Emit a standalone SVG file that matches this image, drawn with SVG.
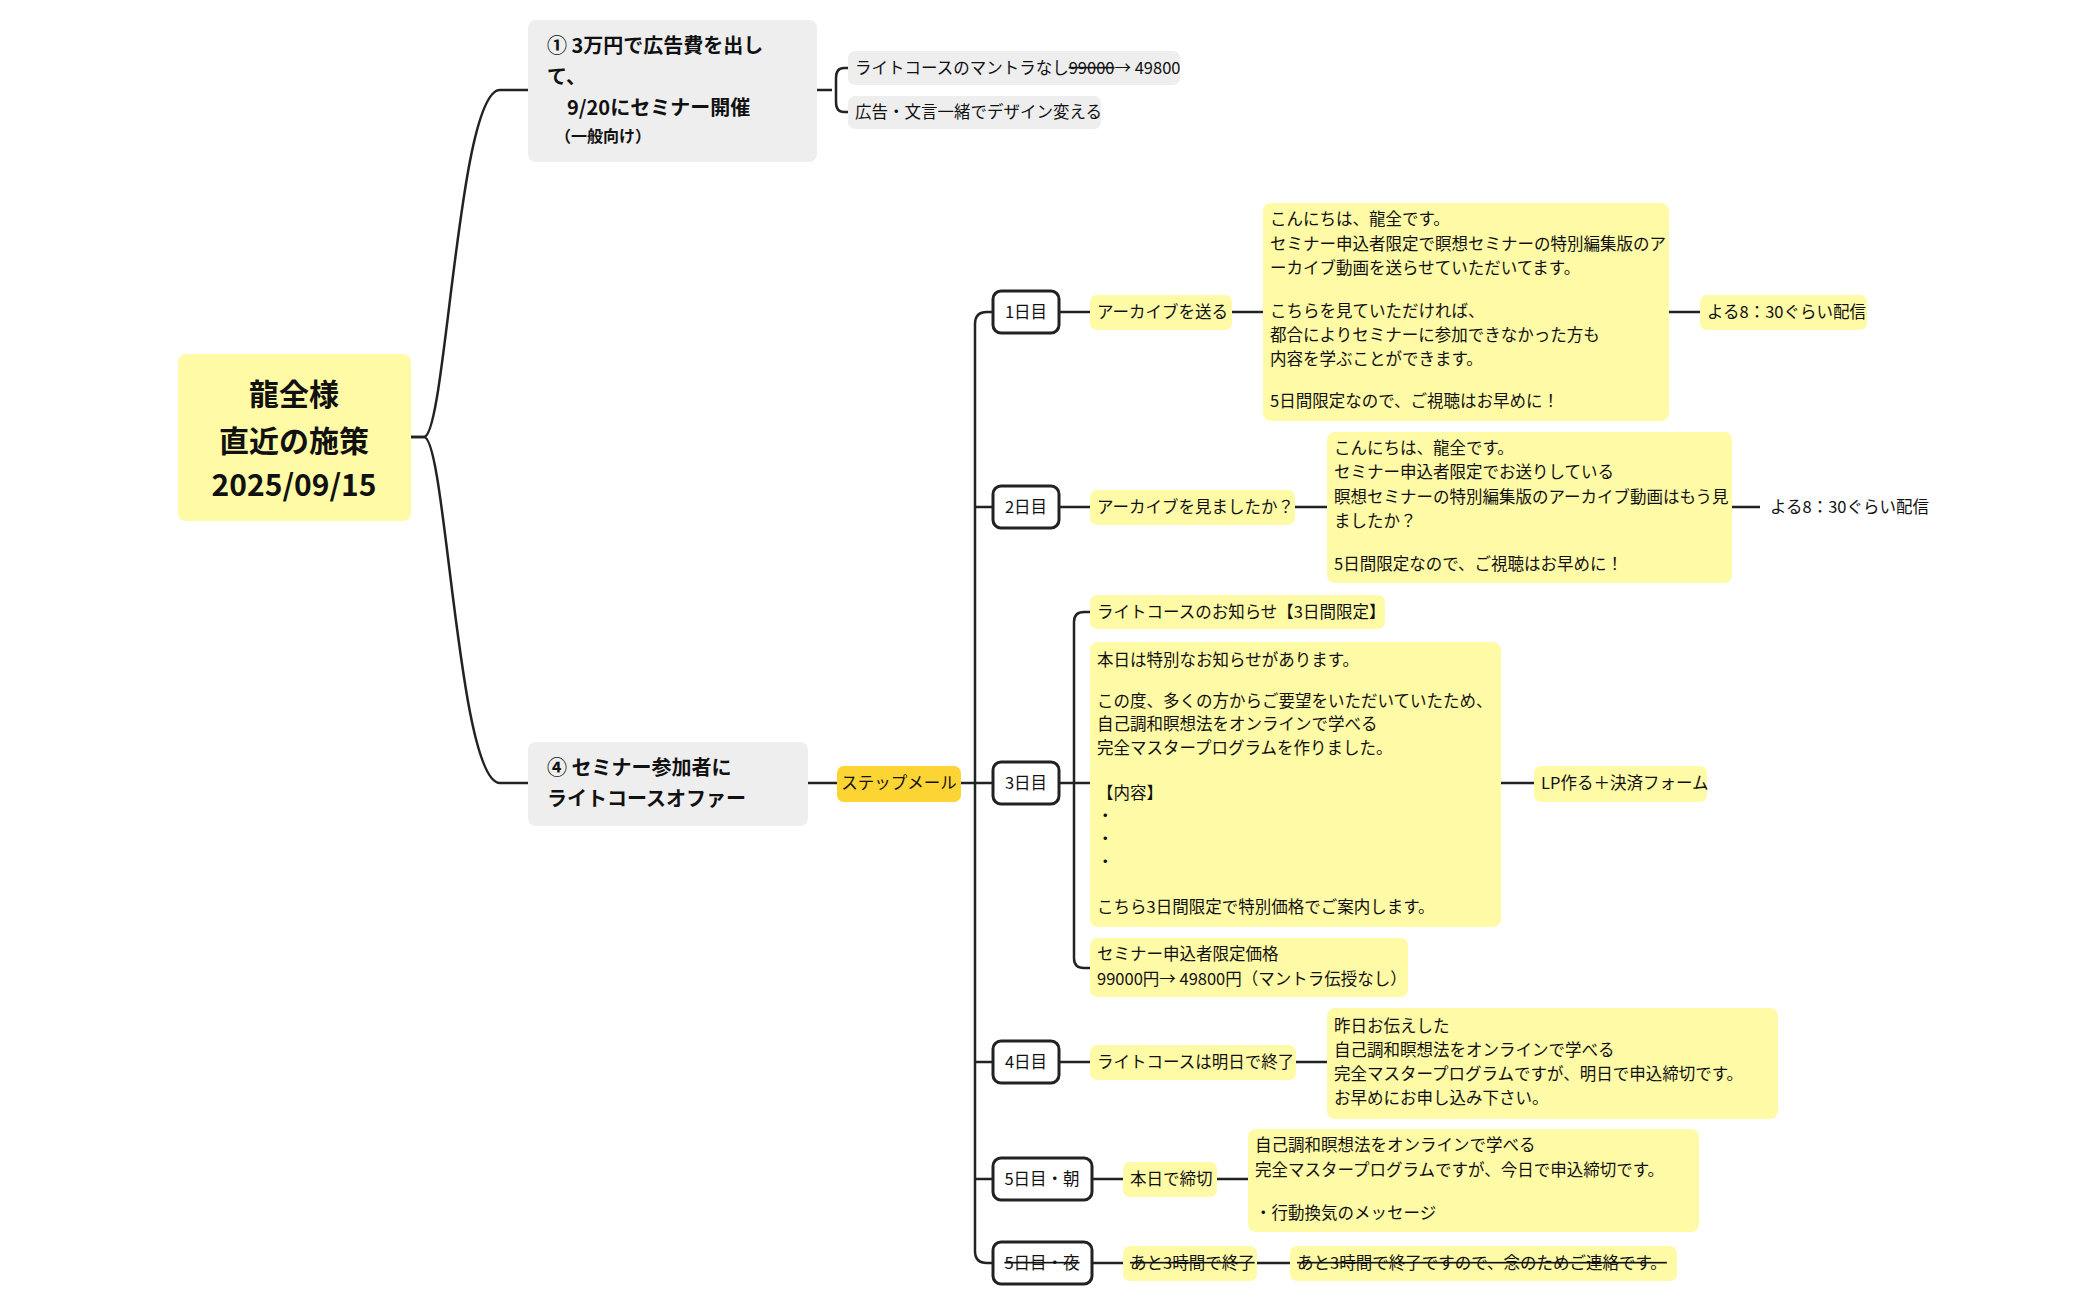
<svg xmlns="http://www.w3.org/2000/svg" width="2100" height="1299" viewBox="0 0 2100 1299">
<style>
text{font-family:"Noto Sans CJK JP","Noto Sans",sans-serif;fill:#111}
.y{fill:#FFFAA6}
.g{fill:#EEEEEE}
.o{fill:#FCD535}
.d{fill:#fff;stroke:#222;stroke-width:3}
.t{font-size:16.5px}
.b{font-weight:bold}
.c{fill:none;stroke:#222;stroke-width:2.5}
.s{text-decoration:line-through}
</style>
<rect width="2100" height="1299" fill="#fff"/>
<g id="connectors">
<path class="c" d="M411,437 H424 C446,437 458,90 500,90 H528"/>
<path class="c" d="M411,437 H424 C446,437 458,783 500,783 H528"/>
<path class="c" d="M817,90 H832 M848,68 H844 Q836,68 836,78 V102 Q836,112 844,112 H848"/>
<path class="c" d="M808,783 H837 M961,783 H993"/>
<path class="c" d="M993,312 H987 Q975,312 975,324 V1251 Q975,1263 987,1263 H993 M975,507 H993 M975,1062 H993 M975,1179 H993"/>
<path class="c" d="M1059,312 H1090 M1232,312 H1263 M1669,312 H1700"/>
<path class="c" d="M1059,507 H1090 M1295,507 H1327 M1732,507 H1760"/>
<path class="c" d="M1059,783 H1074 M1090,612 H1084 Q1074,612 1074,622 V958 Q1074,968 1084,968 H1090 M1074,783 H1090 M1501,783 H1534"/>
<path class="c" d="M1059,1062 H1090 M1296,1062 H1327"/>
<path class="c" d="M1092,1179 H1123 M1217,1179 H1248"/>
<path class="c" d="M1092,1263 H1123 M1257,1263 H1290"/>
</g>
<g id="root"><rect class="y" x="178" y="354" width="233" height="167" rx="8"/>
<text x="294" y="405" text-anchor="middle" font-size="30" class="b">龍全様</text>
<text x="294" y="452" text-anchor="middle" font-size="30" class="b">直近の施策</text>
<text x="294" y="496" text-anchor="middle" font-size="30" class="b">2025/09/15</text></g>
<g id="n1"><rect class="g" x="528" y="20" width="289" height="142" rx="8"/>
<text x="547" y="53" font-size="20" class="b">① 3万円で広告費を出し</text>
<text x="547" y="84" font-size="20" class="b">て、</text>
<text x="547" y="115" font-size="20" class="b" xml:space="preserve">　9/20にセミナー開催</text>
<text x="547" y="142" font-size="16" class="b" xml:space="preserve">　（一般向け）</text></g>
<g id="n1a"><rect class="g" x="848" y="51" width="332" height="34" rx="7"/><text x="855" y="74" class="t">ライトコースのマントラなし<tspan class="s">99000</tspan>→ 49800</text></g>
<g id="n1b"><rect class="g" x="848" y="96" width="253" height="33" rx="7"/><text x="855" y="118" class="t">広告・文言一緒でデザイン変える</text></g>
<g id="n4"><rect class="g" x="528" y="742" width="280" height="84" rx="8"/>
<text x="547" y="775" font-size="20" class="b">④ セミナー参加者に</text>
<text x="547" y="806" font-size="20" class="b">ライトコースオファー</text></g>
<g id="step"><rect class="o" x="837" y="766" width="124" height="36" rx="7"/><text x="899" y="789" class="t" text-anchor="middle">ステップメール</text></g>
<g id="d1"><rect class="d" x="993" y="291" width="66" height="42" rx="8"/><text x="1026" y="318" class="t" text-anchor="middle">1日目</text></g>
<g id="d1a"><rect class="y" x="1090" y="295" width="142" height="35" rx="7"/><text x="1097" y="318" class="t">アーカイブを送る</text></g>
<g id="d1b"><rect class="y" x="1263" y="203" width="406" height="218" rx="8"/>
<text class="t" x="1270"><tspan x="1270" y="225">こんにちは、龍全です。</tspan><tspan x="1270" y="250">セミナー申込者限定で瞑想セミナーの特別編集版のア</tspan><tspan x="1270" y="274">ーカイブ動画を送らせていただいてます。</tspan><tspan x="1270" y="317">こちらを見ていただければ、</tspan><tspan x="1270" y="341">都合によりセミナーに参加できなかった方も</tspan><tspan x="1270" y="365">内容を学ぶことができます。</tspan><tspan x="1270" y="407">5日間限定なので、ご視聴はお早めに！</tspan></text></g>
<g id="d1c"><rect class="y" x="1700" y="295" width="167" height="35" rx="7"/><text x="1707" y="318" class="t">よる8：30ぐらい配信</text></g>
<g id="d2"><rect class="d" x="993" y="486" width="66" height="42" rx="8"/><text x="1026" y="513" class="t" text-anchor="middle">2日目</text></g>
<g id="d2a"><rect class="y" x="1090" y="490" width="205" height="35" rx="7"/><text x="1097" y="513" class="t">アーカイブを見ましたか？</text></g>
<g id="d2b"><rect class="y" x="1327" y="432" width="405" height="151" rx="8"/>
<text class="t"><tspan x="1334" y="454">こんにちは、龍全です。</tspan><tspan x="1334" y="478">セミナー申込者限定でお送りしている</tspan><tspan x="1334" y="503">瞑想セミナーの特別編集版のアーカイブ動画はもう見</tspan><tspan x="1334" y="527">ましたか？</tspan><tspan x="1334" y="570">5日間限定なので、ご視聴はお早めに！</tspan></text></g>
<g id="d2c"><text x="1770" y="513" class="t">よる8：30ぐらい配信</text></g>
<g id="d3"><rect class="d" x="993" y="762" width="66" height="42" rx="8"/><text x="1026" y="789" class="t" text-anchor="middle">3日目</text></g>
<g id="d3a"><rect class="y" x="1090" y="595" width="295" height="34" rx="7"/><text x="1097" y="618" class="t">ライトコースのお知らせ【3日間限定】</text></g>
<g id="d3b"><rect class="y" x="1090" y="642" width="411" height="285" rx="8"/>
<text class="t"><tspan x="1097" y="666">本日は特別なお知らせがあります。</tspan><tspan x="1097" y="707">この度、多くの方からご要望をいただいていたため、</tspan><tspan x="1097" y="730">自己調和瞑想法をオンラインで学べる</tspan><tspan x="1097" y="754">完全マスタープログラムを作りました。</tspan><tspan x="1097" y="799">【内容】</tspan><tspan x="1097" y="822">・</tspan><tspan x="1097" y="845">・</tspan><tspan x="1097" y="868">・</tspan><tspan x="1097" y="913">こちら3日間限定で特別価格でご案内します。</tspan></text></g>
<g id="d3c"><rect class="y" x="1534" y="766" width="173" height="36" rx="7"/><text x="1541" y="789" class="t">LP作る＋決済フォーム</text></g>
<g id="d3d"><rect class="y" x="1090" y="938" width="318" height="59" rx="7"/>
<text class="t"><tspan x="1097" y="960">セミナー申込者限定価格</tspan><tspan x="1097" y="985">99000円→ 49800円（マントラ伝授なし）</tspan></text></g>
<g id="d4"><rect class="d" x="993" y="1041" width="66" height="42" rx="8"/><text x="1026" y="1068" class="t" text-anchor="middle">4日目</text></g>
<g id="d4a"><rect class="y" x="1090" y="1045" width="206" height="35" rx="7"/><text x="1097" y="1068" class="t">ライトコースは明日で終了</text></g>
<g id="d4b"><rect class="y" x="1327" y="1008" width="451" height="111" rx="8"/>
<text class="t"><tspan x="1334" y="1032">昨日お伝えした</tspan><tspan x="1334" y="1056">自己調和瞑想法をオンラインで学べる</tspan><tspan x="1334" y="1080">完全マスタープログラムですが、明日で申込締切です。</tspan><tspan x="1334" y="1104">お早めにお申し込み下さい。</tspan></text></g>
<g id="d5m"><rect class="d" x="993" y="1158" width="99" height="42" rx="8"/><text x="1042" y="1185" class="t" text-anchor="middle">5日目・朝</text></g>
<g id="d5ma"><rect class="y" x="1123" y="1162" width="94" height="35" rx="7"/><text x="1130" y="1185" class="t">本日で締切</text></g>
<g id="d5mb"><rect class="y" x="1248" y="1129" width="451" height="103" rx="8"/>
<text class="t"><tspan x="1255" y="1151">自己調和瞑想法をオンラインで学べる</tspan><tspan x="1255" y="1176">完全マスタープログラムですが、今日で申込締切です。</tspan><tspan x="1255" y="1219">・行動換気のメッセージ</tspan></text></g>
<g id="d5n"><rect class="d" x="993" y="1242" width="99" height="42" rx="8"/><text x="1042" y="1269" class="t s" text-anchor="middle">5日目・夜</text></g>
<g id="d5na"><rect class="y" x="1123" y="1246" width="134" height="35" rx="7"/><text x="1130" y="1269" class="t s">あと3時間で終了</text></g>
<g id="d5nb"><rect class="y" x="1290" y="1246" width="387" height="35" rx="7"/><text x="1297" y="1269" class="t s">あと3時間で終了ですので、念のためご連絡です。</text></g>
</svg>
